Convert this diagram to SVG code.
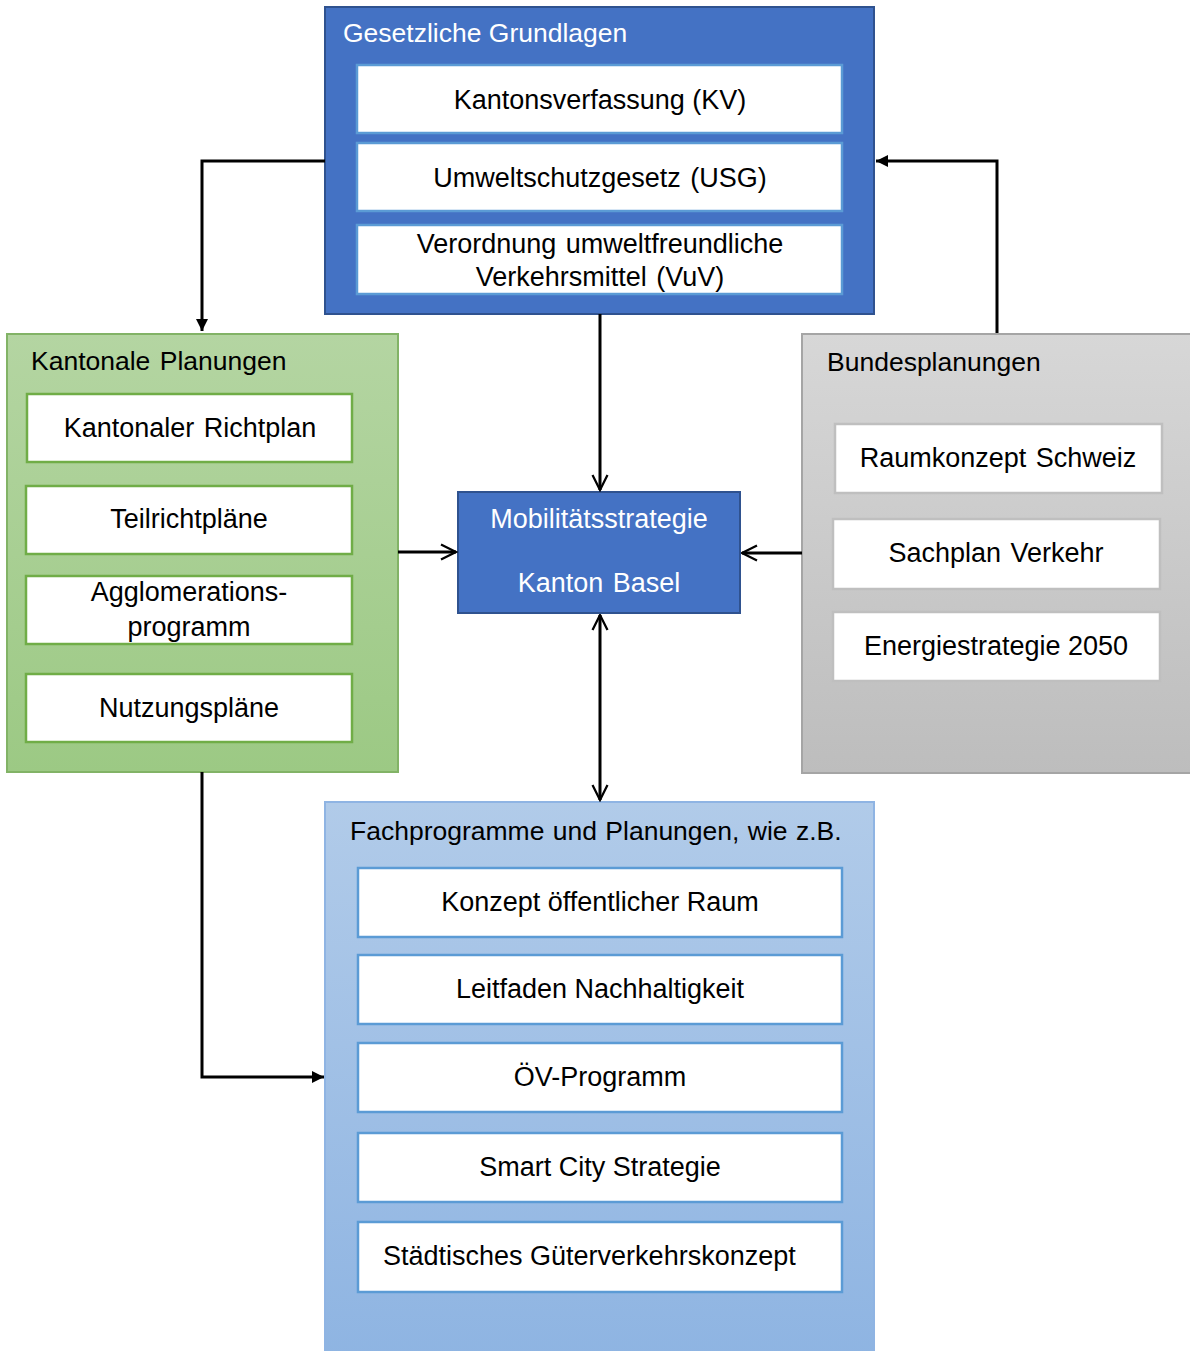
<svg xmlns="http://www.w3.org/2000/svg" width="1190" height="1351" viewBox="0 0 1190 1351">
<defs>
<linearGradient id="gGreen" x1="0" y1="0" x2="0" y2="1"><stop offset="0" stop-color="#B4D5A2"/><stop offset="1" stop-color="#9CC984"/></linearGradient>
<linearGradient id="gGrey" x1="0" y1="0" x2="0" y2="1"><stop offset="0" stop-color="#D7D7D7"/><stop offset="1" stop-color="#BDBDBD"/></linearGradient>
<linearGradient id="gBlue" x1="0" y1="0" x2="0" y2="1"><stop offset="0" stop-color="#B1CBE9"/><stop offset="1" stop-color="#8EB4E2"/></linearGradient>
<marker id="filled" viewBox="0 0 10 10" refX="10" refY="5" markerWidth="4" markerHeight="4" orient="auto" markerUnits="strokeWidth"><path d="M0,0 L10,5 L0,10 Z" fill="#000"/></marker>
<marker id="open" viewBox="0 0 12 12" refX="11" refY="6" markerWidth="6" markerHeight="6" orient="auto-start-reverse" markerUnits="strokeWidth"><path d="M1,1 L11,6 L1,11" fill="none" stroke="#000" stroke-width="1.5"/></marker>
<style>
text{font-family:"Liberation Sans",Arial,sans-serif;font-size:27px;fill:#000}
.t{text-anchor:middle}
.w{fill:#fff}
.h{font-size:26.5px}
.item{fill:#fff;stroke-width:2.5}
.ib{stroke:#5B9BD5}
.ig{stroke:#70AD47}
.igr{stroke:#BFBFBF}
.con{fill:none;stroke:#000;stroke-width:3}
</style>
</defs>
<g id="gesetzliche">
<rect x="325" y="7" width="549" height="307" fill="#4472C4" stroke="#2F528F" stroke-width="2"/>
<text x="343" y="42" class="w h">Gesetzliche Grundlagen</text>
</g>
<g id="kv"><rect class="item ib" x="357" y="65" width="485" height="68"/><text x="600" y="109" class="t">Kantonsverfassung (KV)</text></g>
<g id="usg"><rect class="item ib" x="357" y="143" width="485" height="68"/><text x="600" y="187" class="t" word-spacing="2">Umweltschutzgesetz (USG)</text></g>
<g id="vuv"><rect class="item ib" x="357" y="225" width="485" height="69"/><text x="600" y="253" class="t" word-spacing="2">Verordnung umweltfreundliche</text><text x="600" y="286" class="t" word-spacing="2">Verkehrsmittel (VuV)</text></g>

<g id="kantonale">
<rect x="7" y="334" width="391" height="438" fill="url(#gGreen)" stroke="#82B366" stroke-width="2"/>
<text x="31" y="370" class="h" word-spacing="2">Kantonale Planungen</text>
</g>
<g id="richtplan"><rect class="item ig" x="27" y="394" width="325" height="68"/><text x="190" y="437" class="t" word-spacing="2">Kantonaler Richtplan</text></g>
<g id="teilricht"><rect class="item ig" x="26" y="486" width="326" height="68"/><text x="189" y="528" class="t">Teilrichtpläne</text></g>
<g id="agglo"><rect class="item ig" x="26" y="576" width="326" height="68"/><text x="189" y="601" class="t">Agglomerations-</text><text x="189" y="636" class="t">programm</text></g>
<g id="nutzung"><rect class="item ig" x="26" y="674" width="326" height="68"/><text x="189" y="717" class="t">Nutzungspläne</text></g>

<g id="bundes">
<rect x="802" y="334" width="390" height="439" fill="url(#gGrey)" stroke="#A5A5A5" stroke-width="2"/>
<text x="827" y="371" class="h">Bundesplanungen</text>
</g>
<g id="raumkonzept"><rect class="item igr" x="835" y="424" width="327" height="69"/><text x="998" y="467" class="t" word-spacing="2">Raumkonzept Schweiz</text></g>
<g id="sachplan"><rect class="item igr" x="833" y="519" width="327" height="70"/><text x="996" y="562" class="t" word-spacing="2">Sachplan Verkehr</text></g>
<g id="energie"><rect class="item igr" x="833" y="612" width="327" height="69"/><text x="996" y="655" class="t">Energiestrategie 2050</text></g>

<g id="mobil">
<rect x="458" y="492" width="282" height="121" fill="#4472C4" stroke="#2F528F" stroke-width="2"/>
<text x="599" y="528" class="t w">Mobilitätsstrategie</text>
<text x="599" y="592" class="t w" word-spacing="2">Kanton Basel</text>
</g>

<g id="fach">
<rect x="325" y="802" width="549" height="560" fill="url(#gBlue)" stroke="#8FB4E3" stroke-width="2"/>
<text x="350" y="840" class="h" word-spacing="1">Fachprogramme und Planungen, wie z.B.</text>
</g>
<g id="konzept"><rect class="item ib" x="358" y="868" width="484" height="69"/><text x="600" y="911" class="t">Konzept öffentlicher Raum</text></g>
<g id="leitfaden"><rect class="item ib" x="358" y="955" width="484" height="69"/><text x="600" y="998" class="t">Leitfaden Nachhaltigkeit</text></g>
<g id="oev"><rect class="item ib" x="358" y="1043" width="484" height="69"/><text x="600" y="1086" class="t">ÖV-Programm</text></g>
<g id="smart"><rect class="item ib" x="358" y="1133" width="484" height="69"/><text x="600" y="1176" class="t">Smart City Strategie</text></g>
<g id="gueter"><rect class="item ib" x="358" y="1222" width="484" height="70"/><text x="383" y="1265">Städtisches Güterverkehrskonzept</text></g>

<g id="connectors">
<path class="con" d="M325,161 H202 V331" marker-end="url(#filled)"/>
<path class="con" d="M997,333 V161 H876" marker-end="url(#filled)"/>
<path class="con" d="M600,314 V490" marker-end="url(#open)"/>
<path class="con" d="M398,552 H456" marker-end="url(#open)"/>
<path class="con" d="M802,553 H742" marker-end="url(#open)"/>
<path class="con" d="M600,615 V800" marker-start="url(#open)" marker-end="url(#open)"/>
<path class="con" d="M202,772 V1077 H324" marker-end="url(#filled)"/>
</g>
</svg>
